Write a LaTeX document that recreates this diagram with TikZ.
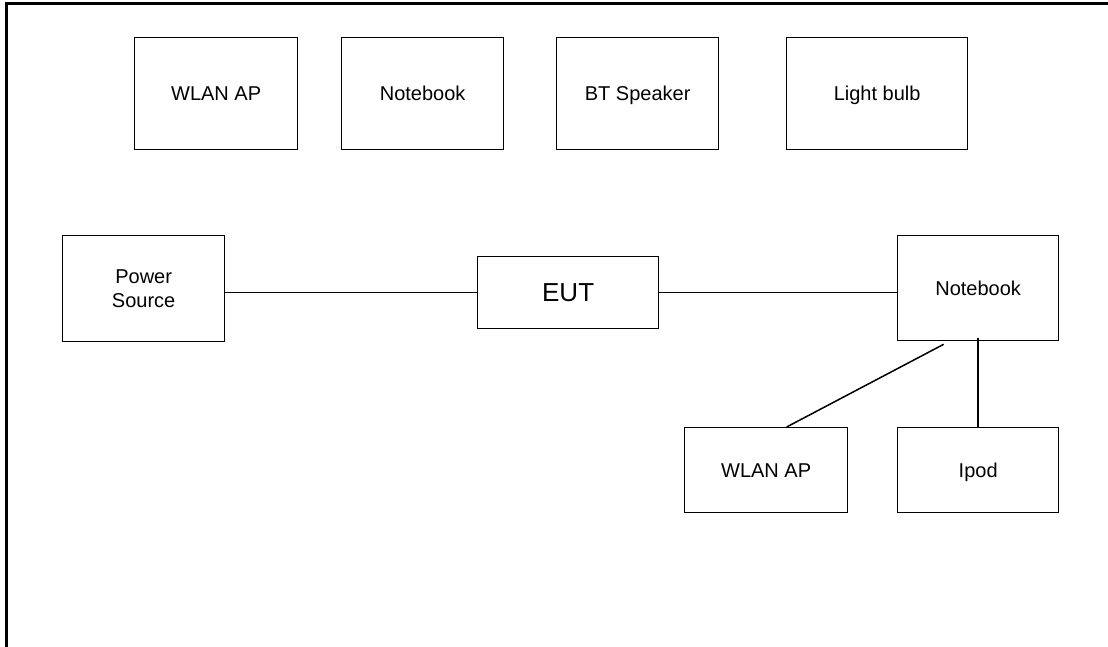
\documentclass[tikz,border=0pt]{standalone}
\usepackage{fontspec}
\setmainfont{Liberation Sans}
\usetikzlibrary{calc}
\begin{document}
\begin{tikzpicture}[x=1pt,y=-1pt,
  box/.style={draw, line width=1.3pt, inner sep=2pt, align=center,
    anchor=north west, font=\fontsize{20}{24}\selectfont},
  oneline/.style={text height=14.3pt, text depth=0pt},
  link/.style={line width=1.5pt},
  frame/.style={line width=2.6pt}]
\useasboundingbox (0,0) rectangle (1108,647);
% outer frame (top and left only)
\coordinate (ftl) at (6.5,3.5);
\coordinate (ftr) at (1108,3.5);
\coordinate (fbl) at (6.5,647);
\draw[frame] (ftr) -- (ftl) -- (fbl);
% top row
\node[box, oneline, minimum width=163, minimum height=112] (wlan1) at (134,37) {WLAN AP};
\node[box, oneline, minimum width=162, minimum height=112] (nb1) at (341,37) {Notebook};
\node[box, oneline, minimum width=162, minimum height=112] (bts) at (556,37) {BT Speaker};
\node[box, oneline, minimum width=181, minimum height=112] (bulb) at (786,37) {Light bulb};
% middle row
\node[box, minimum width=162, minimum height=106] (ps) at (62,235) {Power\\Source};
\node[box, minimum width=181, minimum height=72, font=\fontsize{26}{30}\selectfont,
  text height=18.6pt, text depth=0pt] (eut) at (477,256) {EUT};
\node[box, oneline, minimum width=161, minimum height=105] (nb2) at (897,235) {Notebook};
% bottom row
\node[box, oneline, minimum width=163, minimum height=85] (wlan2) at (684,427) {WLAN AP};
\node[box, oneline, minimum width=161, minimum height=85] (ipod) at (897,427) {Ipod};
% connectors
\draw[link] (eut.west) -- (eut.west -| ps.east);
\draw[link] (eut.east) -- (eut.east -| nb2.west);
\draw[link] ([yshift=3]nb2.south) -- (ipod.north);
\draw[link] ([shift={(-34.5,3)}]nb2.south) -- ([xshift=20.5]wlan2.north);
\end{tikzpicture}
\end{document}
